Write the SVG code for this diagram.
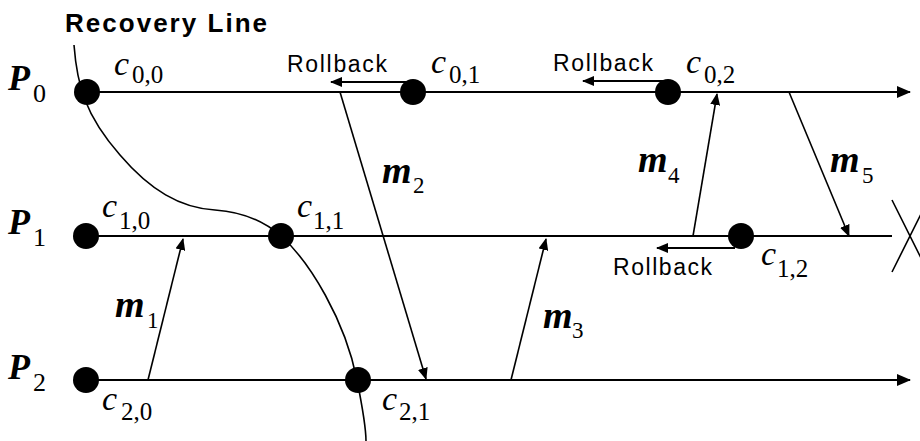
<svg xmlns="http://www.w3.org/2000/svg" width="920" height="441" viewBox="0 0 920 441">
<style>
.proc{stroke:#000;stroke-width:2.2;fill:none}
.msg{stroke:#000;stroke-width:1.6;fill:none}
.rb{stroke:#000;stroke-width:2;fill:none}
.dot{fill:#000}
.P{font-family:"Liberation Serif",serif;font-style:italic;font-weight:bold;font-size:36px}
.Ps{font-family:"Liberation Serif",serif;font-size:26px}
.c{font-family:"Liberation Serif",serif;font-style:italic;font-size:34px}
.cs{font-family:"Liberation Serif",serif;font-size:25px}
.m{font-family:"Liberation Serif",serif;font-style:italic;font-weight:bold;font-size:38px}
.ms{font-family:"Liberation Serif",serif;font-size:23px}
.rbt{font-family:"Liberation Sans",sans-serif;font-size:23px}
.title{font-family:"Liberation Sans",sans-serif;font-weight:bold;font-size:26px}
</style>
<defs>
<marker id="big" viewBox="0 0 14 12" refX="13" refY="6" markerWidth="14" markerHeight="12" markerUnits="userSpaceOnUse" orient="auto"><path d="M0,0 L14,6 L0,12 Z" fill="#000"/></marker>
<marker id="sm" viewBox="0 0 12 10" refX="11" refY="5" markerWidth="12" markerHeight="10" markerUnits="userSpaceOnUse" orient="auto"><path d="M0,0 L12,5 L0,10 Z" fill="#000"/></marker>
</defs>
<rect width="920" height="441" fill="#fff"/>
<text class="title" x="65" y="32" textLength="202" lengthAdjust="spacing">Recovery Line</text>
<g id="processes">
<g id="P0"><text class="P" x="8" y="90">P</text><text class="Ps" x="33" y="102">0</text><line class="proc" x1="87" y1="92" x2="910" y2="92" marker-end="url(#big)"/></g>
<g id="P1"><text class="P" x="8" y="234">P</text><text class="Ps" x="33" y="246">1</text><line class="proc" x1="86" y1="236" x2="892" y2="236"/><path class="msg" d="M892,200 L928,272 M892,272 L928,200"/></g>
<g id="P2"><text class="P" x="8" y="379">P</text><text class="Ps" x="33" y="391">2</text><line class="proc" x1="86" y1="380" x2="910" y2="380" marker-end="url(#big)"/></g>
</g>
<g id="connectors">
<path id="recovery-line" class="msg" d="M74,45 C77,85 85,115 120,155 C150,190 180,208 215,210 C245,212 265,222 281,236 C310,262 345,320 357,380 C362,405 366,425 366,441"/>
<line id="m1" class="msg" x1="148" y1="380" x2="183" y2="239" marker-end="url(#sm)"/>
<line id="m2" class="msg" x1="340" y1="92" x2="426" y2="379" marker-end="url(#sm)"/>
<line id="m3" class="msg" x1="511" y1="380" x2="546" y2="239" marker-end="url(#sm)"/>
<line id="m4" class="msg" x1="693" y1="236" x2="717" y2="94" marker-end="url(#sm)"/>
<line id="m5" class="msg" x1="789" y1="92" x2="849" y2="236" marker-end="url(#sm)"/>
<line id="rb1" class="rb" x1="410" y1="82" x2="331" y2="82" marker-end="url(#sm)"/>
<line id="rb2" class="rb" x1="663" y1="81" x2="583" y2="81" marker-end="url(#sm)"/>
<line id="rb3" class="rb" x1="735" y1="248" x2="657" y2="248" marker-end="url(#sm)"/>
</g>
<g id="c00"><circle class="dot" cx="87" cy="92" r="13"/><text class="c" x="114" y="75">c</text><text class="cs" x="132" y="83">0,0</text></g>
<g id="c01"><circle class="dot" cx="413" cy="92" r="13"/><text class="c" x="431" y="73">c</text><text class="cs" x="449" y="83">0,1</text></g>
<g id="c02"><circle class="dot" cx="668" cy="92" r="13"/><text class="c" x="686" y="73">c</text><text class="cs" x="704" y="83">0,2</text></g>
<g id="c10"><circle class="dot" cx="86" cy="236" r="13"/><text class="c" x="102" y="217">c</text><text class="cs" x="119" y="229">1,0</text></g>
<g id="c11"><circle class="dot" cx="281" cy="236" r="13"/><text class="c" x="297" y="217">c</text><text class="cs" x="313" y="229">1,1</text></g>
<g id="c12"><circle class="dot" cx="741" cy="236" r="13"/><text class="c" x="761" y="265">c</text><text class="cs" x="777" y="277">1,2</text></g>
<g id="c20"><circle class="dot" cx="86" cy="380" r="13"/><text class="c" x="102" y="410">c</text><text class="cs" x="121" y="420">2,0</text></g>
<g id="c21"><circle class="dot" cx="358" cy="380" r="13"/><text class="c" x="382" y="410">c</text><text class="cs" x="399" y="420">2,1</text></g>
<g id="labels">
<text class="m" x="115" y="317">m</text><text class="ms" x="147" y="328">1</text>
<text class="m" x="382" y="183">m</text><text class="ms" x="413" y="193">2</text>
<text class="m" x="543" y="328">m</text><text class="ms" x="572" y="338">3</text>
<text class="m" x="638" y="172">m</text><text class="ms" x="668" y="183">4</text>
<text class="m" x="830" y="172">m</text><text class="ms" x="862" y="183">5</text>
<text class="rbt" x="287" y="72" textLength="100" lengthAdjust="spacing">Rollback</text>
<text class="rbt" x="553" y="71" textLength="100" lengthAdjust="spacing">Rollback</text>
<text class="rbt" x="613" y="275" textLength="99" lengthAdjust="spacing">Rollback</text>
</g>
</svg>
